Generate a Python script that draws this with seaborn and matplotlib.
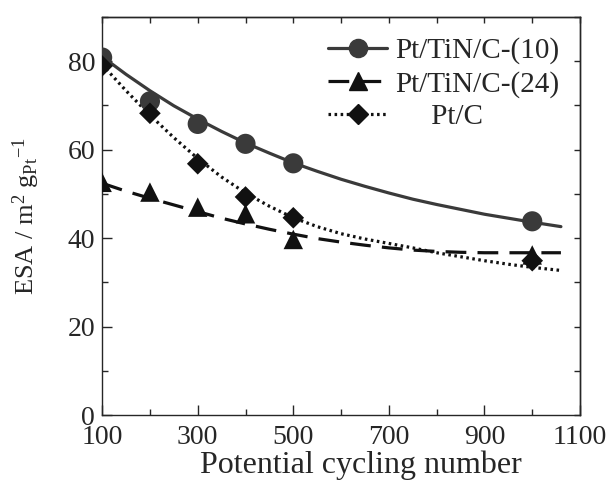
import matplotlib
matplotlib.use("Agg")
import matplotlib.pyplot as plt
from matplotlib.lines import Line2D
from matplotlib.ticker import MultipleLocator, FixedLocator
import seaborn as sns
import pandas as pd

# measured points
cycles = [100, 200, 300, 400, 500, 1000]
esa_tin10 = [80.8, 70.9, 65.8, 61.3, 56.9, 43.8]
esa_tin24 = [52.6, 50.4, 47.0, 45.5, 39.7, 36.2]
esa_ptc = [78.9, 68.2, 56.8, 49.3, 44.6, 34.9]

# fitted curves
fit_x = [100, 150, 200, 250, 300, 350, 400, 450, 500, 550,
         600, 650, 700, 750, 800, 850, 900, 950, 1000, 1060]
fit_tin10 = [81.0, 77.0, 73.3, 69.9, 66.9, 64.1, 61.5, 59.2, 57.0, 55.1,
             53.3, 51.7, 50.2, 48.8, 47.6, 46.5, 45.4, 44.5, 43.6, 42.6]
fit_tin24 = [52.4, 50.6, 49.0, 47.5, 46.0, 44.5, 43.2, 42.0, 40.9, 39.9,
             39.1, 38.4, 37.8, 37.3, 37.0, 36.8, 36.7, 36.7, 36.7, 36.7]
fit_ptc = [79.2, 73.3, 67.8, 62.7, 58.0, 53.8, 50.2, 47.2, 44.6, 42.6,
           41.0, 39.8, 38.8, 37.8, 36.7, 35.8, 34.9, 34.1, 33.4, 32.7]

labels = ["Pt/TiN/C-(10)", "Pt/TiN/C-(24)", "Pt/C"]
xticks = [100, 300, 500, 700, 900, 1100]

sns.set_style("ticks")
plt.rcParams["font.family"] = ["Liberation Serif", "DejaVu Serif"]
plt.rcParams["mathtext.fontset"] = "custom"
plt.rcParams["mathtext.rm"] = "Liberation Serif"
plt.rcParams["mathtext.it"] = "Liberation Serif"

dark = "#3a3a3a"
black = "#111111"
styles = [
    dict(color=dark, marker="o", ms=14.5, dashes=None),
    dict(color=black, marker="^", ms=14, dashes=(6.5, 3.5)),
    dict(color=black, marker="D", ms=11, dashes=(0.8, 1.1)),
]
fits = [fit_tin10, fit_tin24, fit_ptc]
points = [esa_tin10, esa_tin24, esa_ptc]

fig = plt.figure(figsize=(6.08, 4.80), dpi=100)
ax = fig.add_axes([0.168, 0.135, 0.786, 0.83])

handles = []
for lab, st, fy, py in zip(labels, styles, fits, points):
    fit_df = pd.DataFrame({"x": fit_x, "y": fy})
    pt_df = pd.DataFrame({"x": cycles, "y": py})
    sns.lineplot(data=fit_df, x="x", y="y", ax=ax, color=st["color"],
                 lw=2.3, sort=False)
    line = ax.lines[-1]
    if st["dashes"] is not None:
        line.set_dashes(st["dashes"])
    sns.scatterplot(data=pt_df, x="x", y="y", ax=ax, marker=st["marker"],
                    s=(st["ms"] ** 2), color=st["color"], edgecolor="none",
                    zorder=4)
    h = Line2D([], [], color=st["color"], lw=2.3, marker=st["marker"],
               ms=st["ms"] * 0.9)
    if st["dashes"] is not None:
        h.set_dashes(st["dashes"])
    handles.append(h)

ax.set_xlim(100, 1100)
ax.set_ylim(0, 90)
ax.xaxis.set_major_locator(FixedLocator(xticks))
ax.xaxis.set_minor_locator(MultipleLocator(100))
ax.yaxis.set_major_locator(MultipleLocator(20))
ax.yaxis.set_minor_locator(MultipleLocator(10))
ax.tick_params(which="major", direction="in", length=7, width=1.0,
               labelsize=20)
ax.tick_params(axis="x", which="major", pad=7)
ax.tick_params(axis="y", which="major", pad=5)
ax.tick_params(which="minor", direction="in", length=4.5, width=1.0)

top = ax.secondary_xaxis("top")
top.xaxis.set_major_locator(MultipleLocator(100))
top.tick_params(direction="in", length=4, width=1.0, labeltop=False)
right = ax.secondary_yaxis("right")
right.yaxis.set_major_locator(MultipleLocator(10))
right.tick_params(direction="in", length=4, width=1.0, labelright=False)

for side in ["left", "bottom", "top", "right"]:
    ax.spines[side].set_linewidth(1.0)
for sec in (top, right):
    for sp in sec.spines.values():
        sp.set_linewidth(1.0)

ax.set_xlabel("Potential cycling number", fontsize=23)
ax.xaxis.set_label_coords(0.542, -0.088)
ax.set_ylabel(r"ESA / m$^{2}$ g$_{\mathrm{Pt}}$$^{-1}$", fontsize=19)
ax.yaxis.set_label_coords(-0.126, 0.5)

leg_labels = [labels[0], labels[1], "     " + labels[2]]
ax.legend(handles, leg_labels, loc="upper right", frameon=False,
          fontsize=21, handlelength=2.0, handletextpad=0.3,
          labelspacing=0.22, borderaxespad=0.4, borderpad=0.3)

fig.savefig("out.png", dpi=100)
